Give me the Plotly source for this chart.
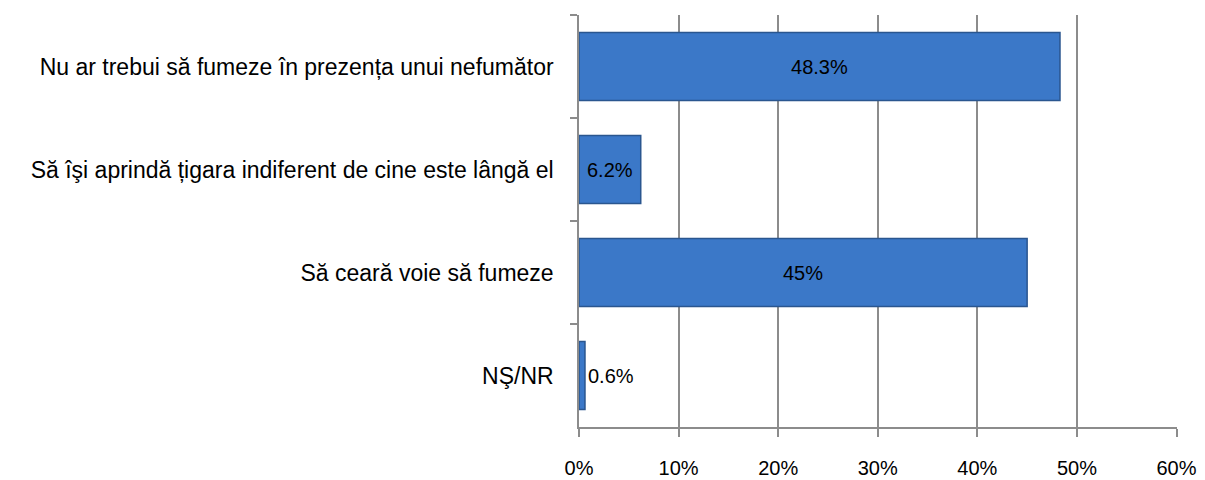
import plotly.graph_objects as go

categories = [
    'Nu ar trebui să fumeze în prezența unui nefumător',
    'Să îşi aprindă țigara indiferent de cine este lângă el',
    'Să ceară voie să fumeze',
    'NŞ/NR',
]
values = [48.3, 6.2, 45, 0.6]
labels = ['48.3%', '6.2%', '45%', '0.6%']
positions = ['inside', 'inside', 'inside', 'outside']

fig = go.Figure()
fig.add_trace(go.Bar(
    x=values, y=categories, orientation='h',
    width=0.66,
    marker=dict(color='#3b78c8', line=dict(color='#2a568f', width=1.5)),
    text=labels, textposition=positions,
    insidetextanchor='middle', constraintext='none', cliponaxis=False,
    textfont=dict(family='Liberation Sans, Arial', size=20, color='#000000'),
))

fig.update_xaxes(range=[0, 60.05], tickvals=[0, 10, 20, 30, 40, 50, 60],
                 ticktext=['0%', '10%', '20%', '30%', '40%', '50%', '60%'],
                 showgrid=True, gridcolor='#8c8c8c', gridwidth=1.5,
                 showline=True, linecolor='#8c8c8c', linewidth=1.5,
                 ticks='outside', ticklen=8, tickcolor='#8c8c8c', tickwidth=1.5,
                 ticklabelstandoff=14,
                 zeroline=False, automargin=False,
                 tickfont=dict(size=20))
fig.update_yaxes(autorange='reversed', showline=True, linecolor='#8c8c8c',
                 linewidth=1.5,
                 ticks='outside', tickson='boundaries', ticklen=7,
                 tickcolor='#8c8c8c', tickwidth=1.5, showgrid=False,
                 ticklabelstandoff=19, automargin=False,
                 tickfont=dict(size=23))

# page body has an 8px margin, so the figure is sized/offset to compensate
fig.update_layout(
    width=1197, height=472,
    margin=dict(l=571, r=28, t=7, b=53),
    plot_bgcolor='white', paper_bgcolor='white',
    font=dict(family='Liberation Sans, Arial', color='#000000'),
    showlegend=False,
)
fig.write_html('out.html')
